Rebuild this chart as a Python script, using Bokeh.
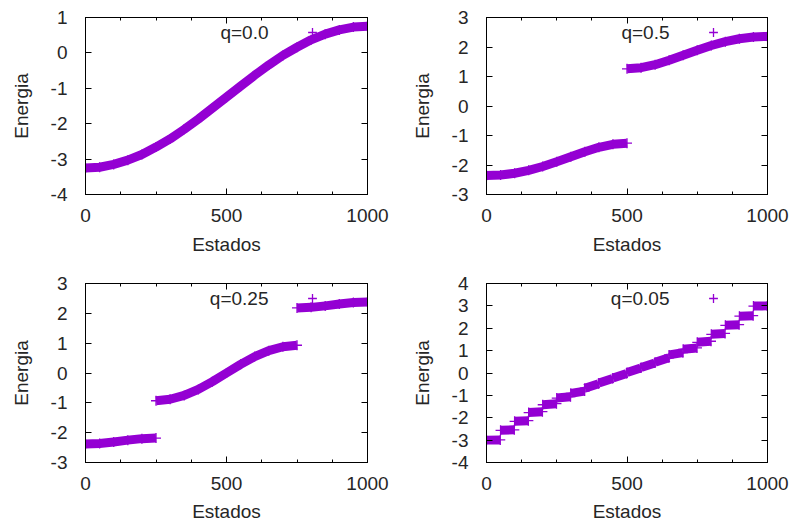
from bokeh.plotting import figure
from bokeh.layouts import column, row
from bokeh.models import Range1d, FixedTicker, LinearAxis, Label, Legend, LegendItem
from bokeh.embed import file_html
from bokeh.resources import INLINE

# ---------------- data ----------------
x_tick_values = [0, 500, 1000]
x_minor_tick_values = [0, 125, 250, 375, 500, 625, 750, 875, 1000]
x_axis_label = "Estados"
y_axis_label = "Energia"

# q = 0.0 : one band
q00_states = [0, 50, 100, 150, 200, 250, 300, 350, 400, 450, 500,
              550, 600, 650, 700, 750, 800, 850, 900, 950, 1000]
q00_energy = [-3.25, -3.23, -3.15, -3.03, -2.87, -2.66, -2.43, -2.16, -1.87, -1.56, -1.25,
              -0.94, -0.63, -0.34, -0.07, 0.16, 0.37, 0.53, 0.65, 0.73, 0.75]
q00_yticks = [-4, -3, -2, -1, 0, 1]

# q = 0.5 : two bands
q05_lower_states = [0, 50, 100, 150, 200, 250, 300, 350, 400, 450, 500]
q05_lower_energy = [-2.36, -2.34, -2.28, -2.18, -2.05, -1.89, -1.72, -1.55, -1.40, -1.30, -1.26]
q05_upper_states = [500, 550, 600, 650, 700, 750, 800, 850, 900, 950, 1000]
q05_upper_energy = [1.26, 1.30, 1.40, 1.55, 1.72, 1.89, 2.05, 2.18, 2.28, 2.34, 2.36]
q05_yticks = [-3, -2, -1, 0, 1, 2, 3]

# q = 0.25 : outer bands + merged central bands
q025_low_states = [0, 50, 100, 150, 200, 250]
q025_low_energy = [-2.38, -2.36, -2.31, -2.25, -2.20, -2.18]
q025_mid_states = [250, 300, 350, 400, 450, 500, 550, 600, 650, 700, 750]
q025_mid_energy = [-0.93, -0.88, -0.75, -0.55, -0.29, 0.00, 0.29, 0.55, 0.75, 0.88, 0.93]
q025_high_states = [750, 800, 850, 900, 950, 1000]
q025_high_energy = [2.18, 2.20, 2.25, 2.31, 2.36, 2.38]
q025_yticks = [-3, -2, -1, 0, 1, 2, 3]

# q = 0.05 : twenty narrow bands (first / last state, energy at each end)
q005_first_state = [0, 50, 100, 150, 200, 250, 300, 350, 400, 450,
                    500, 550, 600, 650, 700, 750, 800, 850, 900, 950]
q005_last_state = [49, 99, 149, 199, 249, 299, 349, 399, 449, 499,
                   549, 599, 649, 699, 749, 799, 849, 899, 949, 999]
q005_energy_first = [-3.00, -2.56, -2.16, -1.77, -1.42, -1.12, -0.91, -0.68, -0.45, -0.22,
                     0.02, 0.25, 0.48, 0.81, 1.06, 1.37, 1.73, 2.13, 2.54, 2.99]
q005_energy_last = [-2.99, -2.54, -2.13, -1.73, -1.37, -1.06, -0.81, -0.48, -0.25, -0.02,
                    0.22, 0.45, 0.68, 0.91, 1.12, 1.42, 1.77, 2.16, 2.56, 3.00]
q005_yticks = [-4, -3, -2, -1, 0, 1, 2, 3, 4]

# ---------------- style ----------------
VIOLET = "#9400D3"
FONT = "Liberation Sans"
TEXT = "#262626"
FS = "19px"


def style_axis(ax, ticker, show_labels, label_standoff):
    ax.ticker = ticker
    ax.axis_line_color = "black"
    ax.axis_line_width = 1
    ax.major_tick_line_color = "black"
    ax.minor_tick_line_color = "black"
    ax.major_tick_in = 6
    ax.major_tick_out = 0
    ax.minor_tick_in = 3
    ax.minor_tick_out = 0
    ax.major_label_text_font = FONT
    ax.major_label_text_color = TEXT
    if show_labels:
        ax.major_label_text_font_size = FS
        ax.major_label_standoff = label_standoff
        ax.major_label_overrides = {t: str(t) for t in ticker.ticks}
    else:
        ax.major_label_text_font_size = "1px"
        ax.major_label_standoff = 0
        ax.major_label_overrides = {t: "" for t in ticker.ticks}


def panel(width, height, borders, y_lo, y_hi, y_ticks, band_states, band_energy, q_text,
          x_label_standoff, x_tick_standoff):
    bl, br, bt, bb = borders
    frame_h = height - bt - bb
    p = figure(width=width, height=height,
               x_range=Range1d(0, 1000), y_range=Range1d(y_lo, y_hi),
               output_backend="svg", toolbar_location=None,
               min_border_left=bl, min_border_right=br,
               min_border_top=bt, min_border_bottom=bb,
               background_fill_color="white", border_fill_color="white",
               outline_line_color="black", outline_line_width=1)
    p.grid.visible = False

    xb = p.xaxis[0]
    yl = p.yaxis[0]
    style_axis(xb, FixedTicker(ticks=x_tick_values, minor_ticks=x_minor_tick_values), True, x_tick_standoff)
    style_axis(yl, FixedTicker(ticks=y_ticks, minor_ticks=[]), True, 18)
    xb.axis_label = x_axis_label
    yl.axis_label = y_axis_label
    for ax in (xb, yl):
        ax.axis_label_text_font = FONT
        ax.axis_label_text_font_size = FS
        ax.axis_label_text_font_style = "normal"
        ax.axis_label_text_color = TEXT
    xb.axis_label_standoff = x_label_standoff
    yl.axis_label_standoff = 16

    top = LinearAxis()
    style_axis(top, FixedTicker(ticks=x_tick_values, minor_ticks=x_minor_tick_values), False, 0)
    p.add_layout(top, "above")
    right = LinearAxis()
    style_axis(right, FixedTicker(ticks=y_ticks, minor_ticks=[]), False, 0)
    p.add_layout(right, "right")

    p.multi_line(xs=band_states, ys=band_energy, line_color=VIOLET, line_width=9,
                 line_cap="butt", line_join="round")
    pts_x = [s for band in band_states for s in band]
    pts_y = [e for band in band_energy for e in band]
    r_pts = p.scatter(pts_x, pts_y, marker="cross", size=10, line_color=VIOLET, line_width=1.3)

    p.add_layout(Label(x=183, y=frame_h - 15, x_units="screen", y_units="screen",
                       text=q_text, text_align="right", text_baseline="middle",
                       text_font=FONT, text_font_size=FS, text_color=TEXT))
    leg = Legend(items=[LegendItem(label=" ", renderers=[r_pts])],
                 location=(216, frame_h - 26), glyph_width=22, glyph_height=22,
                 padding=0, margin=0, spacing=0, label_standoff=0,
                 label_text_font_size="2px", label_width=2, label_height=2,
                 border_line_alpha=0, background_fill_alpha=0)
    p.add_layout(leg)
    return p


p1 = panel(400, 262, (85, 33, 17, 68), -4, 1, q00_yticks,
           [q00_states], [q00_energy], "q=0.0", 9, 14)
p2 = panel(392, 262, (86, 25, 17, 68), -3, 3, q05_yticks,
           [q05_lower_states, q05_upper_states], [q05_lower_energy, q05_upper_energy],
           "q=0.5", 9, 14)
p3 = panel(400, 262, (85, 33, 21, 62), -3, 3, q025_yticks,
           [q025_low_states, q025_mid_states, q025_high_states],
           [q025_low_energy, q025_mid_energy, q025_high_energy], "q=0.25", 8, 14)
p4 = panel(392, 262, (86, 25, 21, 62), -4, 4, q005_yticks,
           [[f, l] for f, l in zip(q005_first_state, q005_last_state)],
           [[a, b] for a, b in zip(q005_energy_first, q005_energy_last)], "q=0.05", 8, 14)

layout = column(row(p1, p2), row(p3, p4))
open("out.html", "w").write(file_html(layout, INLINE))
